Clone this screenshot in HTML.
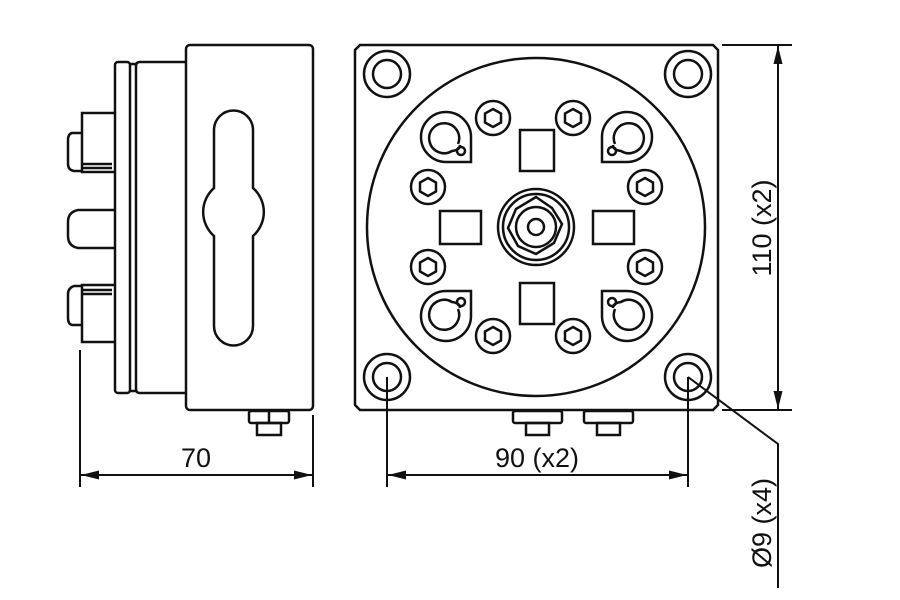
<!DOCTYPE html>
<html><head><style>body{margin:0;background:#fff}svg{display:block}</style></head>
<body>
<svg width="900" height="600" viewBox="0 0 900 600" xmlns="http://www.w3.org/2000/svg" fill="none" stroke="#111" stroke-width="2.5" font-family="Liberation Sans, sans-serif">
<defs>
<marker id="a" viewBox="0 0 18 9" refX="18" refY="4.5" markerWidth="18" markerHeight="9" markerUnits="userSpaceOnUse" orient="auto-start-reverse"><path d="M0 0L18 4.5L0 9z" fill="#111" stroke="none"/></marker>
</defs>
<!-- SIDE VIEW -->
<rect x="186" y="45" width="127" height="365" rx="4"/>
<path d="M186 62H140Q136 62 136 66V389Q136 393 140 393H186"/>
<rect x="115" y="62" width="15" height="331" rx="3"/>
<line x1="130" y1="64" x2="136" y2="64"/><line x1="130" y1="391" x2="136" y2="391"/>
<path d="M214 130A19.5 19.5 0 0 1 253 130V188A32 32 0 0 1 253 236V326A19.5 19.5 0 0 1 214 326V236A32 32 0 0 1 214 188Z"/>
<!-- connectors -->
<path d="M115 113H82V172H115"/><path d="M82 133H72Q68 134 68 140V164Q68 170 74 171H82"/><line x1="82" y1="164" x2="112" y2="164"/><line x1="82" y1="168" x2="112" y2="168"/>
<path d="M115 210H78Q68 212 68 222V236Q68 246 78 248H115"/>
<path d="M115 342H82V285H115"/><path d="M82 325H72Q68 324 68 318V294Q68 288 74 286H82"/><line x1="82" y1="290" x2="112" y2="290"/><line x1="82" y1="294" x2="112" y2="294"/>
<!-- side bottom nut -->
<rect x="249" y="411" width="40" height="12" rx="2"/><line x1="269" y1="411" x2="269" y2="423"/><rect x="257" y="423" width="24" height="12"/>
<!-- FRONT VIEW -->
<path d="M360 45H713L718 50V405L713 410H360L355 405V50Z"/>
<circle cx="536" cy="227" r="169"/>
<g>
<circle cx="387" cy="74" r="23"/><circle cx="387" cy="74" r="14"/>
<circle cx="688" cy="74" r="23"/><circle cx="688" cy="74" r="14"/>
<circle cx="387" cy="377" r="23"/><circle cx="387" cy="377" r="14"/>
<circle cx="688" cy="377" r="23"/><circle cx="688" cy="377" r="14"/>
</g>
<g>
<circle cx="493" cy="118" r="17"/><circle cx="573" cy="118" r="17"/>
<circle cx="428" cy="187" r="17"/><circle cx="645" cy="187" r="17"/>
<circle cx="428" cy="267" r="17"/><circle cx="645" cy="267" r="17"/>
<circle cx="493" cy="336" r="17"/><circle cx="573" cy="336" r="17"/>
</g>
<g>
<polygon points="493,109 501,113.5 501,122.5 493,127 485,122.5 485,113.5"/>
<polygon points="573,109 581,113.5 581,122.5 573,127 565,122.5 565,113.5"/>
<polygon points="428,178 436,182.5 436,191.5 428,196 420,191.5 420,182.5"/>
<polygon points="645,178 653,182.5 653,191.5 645,196 637,191.5 637,182.5"/>
<polygon points="428,258 436,262.5 436,271.5 428,276 420,271.5 420,262.5"/>
<polygon points="645,258 653,262.5 653,271.5 645,276 637,271.5 637,262.5"/>
<polygon points="493,327 501,331.5 501,340.5 493,345 485,340.5 485,331.5"/>
<polygon points="573,327 581,331.5 581,340.5 573,345 565,340.5 565,331.5"/>
</g>
<rect x="520" y="130" width="34" height="41"/><rect x="520" y="283" width="34" height="41"/>
<rect x="440" y="211" width="41" height="33"/><rect x="593" y="211" width="41" height="33"/>
<g>
<path d="M471 162H446A25 25 0 1 1 471 137Z"/><path d="M458 144A15 15 0 1 0 452 151Q460 150 460 145"/><circle cx="461" cy="151" r="4"/>
<path d="M602 162H627A25 25 0 1 0 602 137Z"/><path d="M615 144A15 15 0 1 1 621 151Q613 150 613 145"/><circle cx="612" cy="151" r="4"/>
<path d="M471 291H446A25 25 0 1 0 471 316Z"/><path d="M458 309A15 15 0 1 1 452 302Q460 303 460 308"/><circle cx="461" cy="302" r="4"/>
<path d="M602 291H627A25 25 0 1 1 602 316Z"/><path d="M615 309A15 15 0 1 0 621 302Q613 303 613 308"/><circle cx="612" cy="302" r="4"/>
</g>
<circle cx="536" cy="227" r="38"/><circle cx="536" cy="227" r="33"/>
<polygon points="536,197 552,208 562,224 554,243 536,254 518,246 508,228 516,209" />
<circle cx="536" cy="227" r="20"/><circle cx="536" cy="227" r="8"/>
<rect x="513" y="411" width="49" height="12" rx="2"/><rect x="526" y="423" width="23" height="12"/>
<rect x="584" y="411" width="49" height="12" rx="2"/><rect x="597" y="423" width="23" height="12"/>
<g stroke-width="2">
<line x1="80" y1="350" x2="80" y2="487"/><line x1="313" y1="415" x2="313" y2="487"/>
<line x1="81" y1="475" x2="312" y2="475" marker-start="url(#a)" marker-end="url(#a)"/>
<line x1="387" y1="377" x2="387" y2="487"/><line x1="688" y1="377" x2="688" y2="487"/>
<line x1="388" y1="475" x2="687" y2="475" marker-start="url(#a)" marker-end="url(#a)"/>
<line x1="722" y1="45" x2="792" y2="45"/><line x1="722" y1="410" x2="792" y2="410"/>
<line x1="778" y1="46" x2="778" y2="409" marker-start="url(#a)" marker-end="url(#a)"/>
<polyline points="688,377 778,444 778,588"/>
</g>
<g fill="#111" stroke="none" font-size="27">
<text x="196" y="467" text-anchor="middle">70</text>
<text x="537" y="467" text-anchor="middle">90 (x2)</text>
<text transform="translate(771,228) rotate(-90)" text-anchor="middle">110 (x2)</text>
<text transform="translate(771,523) rotate(-90)" text-anchor="middle">Ø9 (x4)</text>
</g>
</svg>
</body></html>
